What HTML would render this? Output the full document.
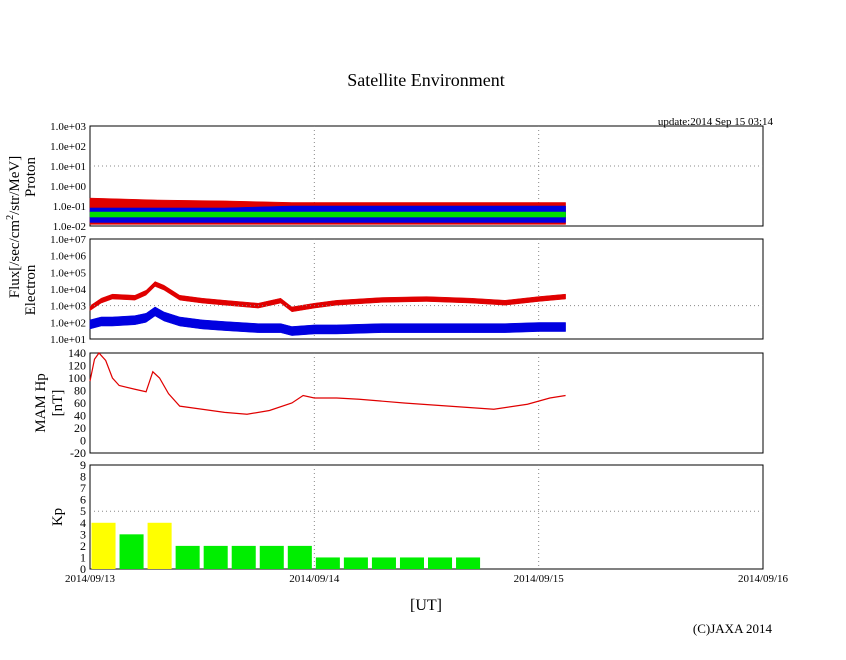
<!DOCTYPE html>
<html><head><meta charset="utf-8"><style>
body{margin:0;background:#fff}
svg{font-family:"Liberation Serif",serif}
</style></head><body>
<svg id="c" width="846" height="655"></svg>
<script>
// ---- data ----
const days = ["2014/09/13","2014/09/14","2014/09/15","2014/09/16"];
const protonT = [0,0.3,0.6,0.9,1.2,1.5,1.8,2.12];
const protonRedHi = [0.25,0.2,0.18,0.15,0.15,0.15,0.15,0.15];
const protonRedLo = [0.012,0.012,0.012,0.012,0.012,0.012,0.012,0.012];
const protonBlueHi = [0.08,0.08,0.08,0.1,0.1,0.1,0.1,0.1];
const protonBlueLo = [0.015,0.015,0.015,0.015,0.015,0.015,0.015,0.015];
const protonGreenHi = [0.05,0.05,0.05,0.05,0.05,0.05,0.05,0.05];
const protonGreenLo = [0.028,0.028,0.028,0.028,0.028,0.028,0.028,0.028];
const elecT = [0,0.05,0.1,0.2,0.25,0.29,0.33,0.4,0.5,0.6,0.75,0.85,0.9,1.0,1.1,1.3,1.5,1.7,1.85,2.0,2.12];
const elecRed = [700,2000,3500,3000,6000,20000,12000,3000,2000,1500,1000,2000,600,1000,1500,2200,2500,2000,1500,2500,3500];
const elecBlue = [100,150,150,180,250,600,300,150,100,80,60,60,40,50,50,60,60,60,60,70,70];
const hpT = [0,0.02,0.04,0.07,0.1,0.13,0.2,0.25,0.28,0.31,0.35,0.4,0.5,0.6,0.7,0.8,0.9,0.95,1.0,1.1,1.2,1.4,1.6,1.8,1.95,2.05,2.12];
const hpV = [95,130,140,128,100,88,82,78,110,100,75,55,50,45,42,48,60,72,68,68,66,60,55,50,58,68,72];
const kpV = [4,3,4,2,2,2,2,2,1,1,1,1,1,1];
const logTicksP = ["1.0e-02","1.0e-01","1.0e+00","1.0e+01","1.0e+02","1.0e+03"];
const logTicksE = ["1.0e+01","1.0e+02","1.0e+03","1.0e+04","1.0e+05","1.0e+06","1.0e+07"];
const hpTicks = [-20,0,20,40,60,80,100,120,140];
const kpTicks = [0,1,2,3,4,5,6,7,8,9];

const NS="http://www.w3.org/2000/svg";
const svg=document.getElementById('c');
function el(t,a,p){const e=document.createElementNS(NS,t);for(const k in a)e.setAttribute(k,a[k]);(p||svg).appendChild(e);return e;}
const X0=90,X1=763;
const xs=d=>X0+(X1-X0)*d/3;
const P=[{t:126,b:226},{t:239,b:339},{t:353,b:453},{t:465,b:569}];

function txt(x,y,s,opts){const e=el('text',Object.assign({x:x,y:y,'font-size':11,fill:'#000'},opts||{}));e.textContent=s;return e;}

function frame(p,name){
  const r=el('rect',{x:X0,y:p.t,width:X1-X0,height:p.b-p.t,fill:'none',stroke:'#000','stroke-width':1});
  
  
  for(let d=1;d<3;d++){const g=el('line',{x1:xs(d),x2:xs(d),y1:p.t,y2:p.b,stroke:'#888','stroke-dasharray':'1,3'});
    
    }
}
function band(T,hi,lo,ys,color,name){
  let pts=T.map((t,i)=>xs(t)+','+ys(hi[i]));
  for(let i=T.length-1;i>=0;i--)pts.push(xs(T[i])+','+ys(lo[i]));
  const e=el('polygon',{points:pts.join(' '),fill:color,stroke:color,'stroke-width':0.5});
  
  
}
function line(T,V,ys,color,name,w){
  const e=el('polyline',{points:T.map((t,i)=>xs(t)+','+ys(V[i])).join(' '),fill:'none',stroke:color,'stroke-width':w||1.5});
  
  
}

// title
let t=txt(426,86,'Satellite Environment',{'font-size':18,'text-anchor':'middle'});

t=txt(773,125,'update:2014 Sep 15 03:14',{'font-size':11,'text-anchor':'end'});


// Proton panel
const p1=P[0];const ysP=v=>Math.min(p1.b,p1.b-(Math.log10(v)+2)/5*(p1.b-p1.t));
frame(p1,'proton-panel');
band(protonT,protonRedHi,protonRedLo,ysP,'#e00000','proton-red-series');
band(protonT,protonBlueHi,protonBlueLo,ysP,'#0000e0','proton-blue-series');
band(protonT,protonGreenHi,protonGreenLo,ysP,'#00e000','proton-green-series');
logTicksP.forEach((s,i)=>{const y=p1.b-i*20;t=txt(86,y+4,s,{'text-anchor':'end'});
  
  if(i==3){el('line',{x1:X0,x2:X1,y1:y,y2:y,stroke:'#888','stroke-dasharray':'1,3'});}});

// Electron panel
const p2=P[1];const ysE=v=>Math.min(p2.b,p2.b-(Math.log10(v)-1)/6*(p2.b-p2.t));
frame(p2,'electron-panel');
band(elecT,elecRed.map(v=>v*1.4),elecRed.map(v=>v/1.4),ysE,'#e00000','electron-red-series');
band(elecT,elecBlue.map(v=>v*1.4),elecBlue.map(v=>v/2.5),ysE,'#0000e0','electron-blue-series');
logTicksE.forEach((s,i)=>{const y=p2.b-i*100/6;t=txt(86,y+4,s,{'text-anchor':'end'});
  
  if(i==2){el('line',{x1:X0,x2:X1,y1:y,y2:y,stroke:'#888','stroke-dasharray':'1,3'});}});

// Hp panel
const p3=P[2];const ysH=v=>p3.b-(v+20)/160*(p3.b-p3.t);
frame(p3,'hp-panel');
line(hpT,hpV,ysH,'#e00000','hp-series',1.2);
hpTicks.forEach(v=>{t=txt(86,ysH(v)+4,String(v),{'text-anchor':'end','font-size':12});
  });

// Kp panel
const p4=P[3];const ysK=v=>p4.b-v/9*(p4.b-p4.t);
frame(p4,'kp-panel');
el('line',{x1:X0,x2:X1,y1:ysK(5),y2:ysK(5),stroke:'#888','stroke-dasharray':'1,3'});
kpV.forEach((v,i)=>{const x=xs(i/8);const w=(X1-X0)/24;
  const r=el('rect',{x:x+1.5,y:ysK(v),width:w-4,height:p4.b-ysK(v),fill:v>=4?'#ffff00':'#00ee00'});
  });
kpTicks.forEach(v=>{t=txt(86,ysK(v)+4,String(v),{'text-anchor':'end','font-size':12});
  });

// x labels
days.forEach((s,i)=>{t=txt(xs(i),582,s,{'text-anchor':'middle','font-size':11});
  });
t=txt(426,610,'[UT]',{'font-size':16,'text-anchor':'middle'});

t=txt(772,633,'(C)JAXA 2014',{'font-size':13,'text-anchor':'end'});


// rotated y titles
function rot(x,y,s,size,name){const e=txt(x,y,s,{'font-size':size,'text-anchor':'middle',transform:'rotate(-90 '+x+' '+y+')'});
  return e;}
const f=rot(19,227,'',15,'flux-axis-title');
f.innerHTML='Flux[/sec/cm<tspan dy="-6" font-size="10">2</tspan><tspan dy="6">/str/MeV]</tspan>';
rot(35,177,'Proton',15,'proton-axis-title');
rot(35,290,'Electron',15,'electron-axis-title');
rot(45,403,'MAM Hp',15,'hp-axis-title');
rot(62,403,'[nT]',15,'hp-unit-title');
rot(62,517,'Kp',15,'kp-axis-title');
</script>
</body></html>
